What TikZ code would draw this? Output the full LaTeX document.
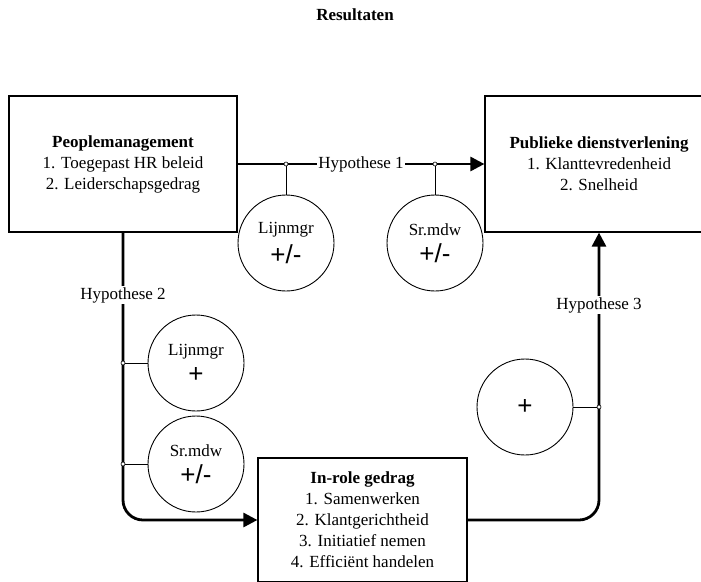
\documentclass[tikz,border=0pt]{standalone}
\usepackage{fontspec}
\setmainfont{Liberation Serif}
\setsansfont{Liberation Sans}
\usetikzlibrary{arrows.meta,positioning}
\tikzset{
  box/.style={draw,line width=1.2pt,minimum width=228pt,minimum height=136pt,align=center,font=\fontsize{17}{21}\selectfont},
  modcirc/.style={draw,circle,line width=0.9pt,minimum size=96pt,inner sep=0pt,align=center,font=\fontsize{17}{21}\selectfont},
  hyp/.style={line width=2.8pt,-{Triangle[length=14pt,width=14pt]}},
  lbl/.style={fill=white,inner sep=1pt,font=\fontsize{17}{21}\selectfont},
  junc/.style={draw,circle,fill=white,line width=0.6pt,minimum size=4pt,inner sep=0pt},
  thin/.style={line width=0.9pt}
}
\newcommand{\pmsign}[1]{{\sffamily\fontsize{26}{24}\selectfont #1}}
\begin{document}
\begin{tikzpicture}[x=1pt,y=-1pt]
\useasboundingbox (0,0) rectangle (701,581);
\node[font=\fontsize{17}{21}\selectfont\bfseries] (title) at (355,15) {Resultaten};
\node[box] (pm) at (123,164) {\textbf{Peoplemanagement}\\1. Toegepast HR beleid\\2. Leiderschapsgedrag};
\node[box] (pd) at (599,164) {\textbf{Publieke dienstverlening}\\1. Klanttevredenheid\\2. Snelheid};
\node[box,minimum width=209pt,minimum height=124pt] (irole) at (362.5,520) {\textbf{In-role gedrag}\\1. Samenwerken\\2. Klantgerichtheid\\3. Initiatief nemen\\4. Efficiënt handelen};
\node[modcirc] (lm1) at (286,243) {Lijnmgr\\[6pt]\pmsign{+/-}};
\node[modcirc] (sm1) at (435,243) {Sr.mdw\\[6pt]\pmsign{+/-}};
\node[modcirc] (lm2) at (196,363) {Lijnmgr\\[6pt]\pmsign{+}};
\node[modcirc] (sm2) at (196,464) {Sr.mdw\\[6pt]\pmsign{+/-}};
\node[modcirc] (ir) at (525,407) {\pmsign{+}};
\draw[hyp] (pm.east) -- node[lbl] (h1) {Hypothese 1} (pd.west);
\draw[hyp,rounded corners=20pt] (pm.south) |- (irole.west);
\draw[hyp,rounded corners=20pt] (irole.east) -| (pd.south);
\node[lbl] (h2) at (123,295) {Hypothese 2};
\node[lbl] (h3) at (599,305) {Hypothese 3};
\node[junc] (j1) at (286,164) {};
\node[junc] (j2) at (435,164) {};
\node[junc] (j3) at (123,363) {};
\node[junc] (j4) at (123,464) {};
\node[junc] (j5) at (599,407) {};
\draw[thin] (j1) -- (lm1);
\draw[thin] (j2) -- (sm1);
\draw[thin] (j3) -- (lm2);
\draw[thin] (j4) -- (sm2);
\draw[thin] (j5) -- (ir);
\end{tikzpicture}
\end{document}
